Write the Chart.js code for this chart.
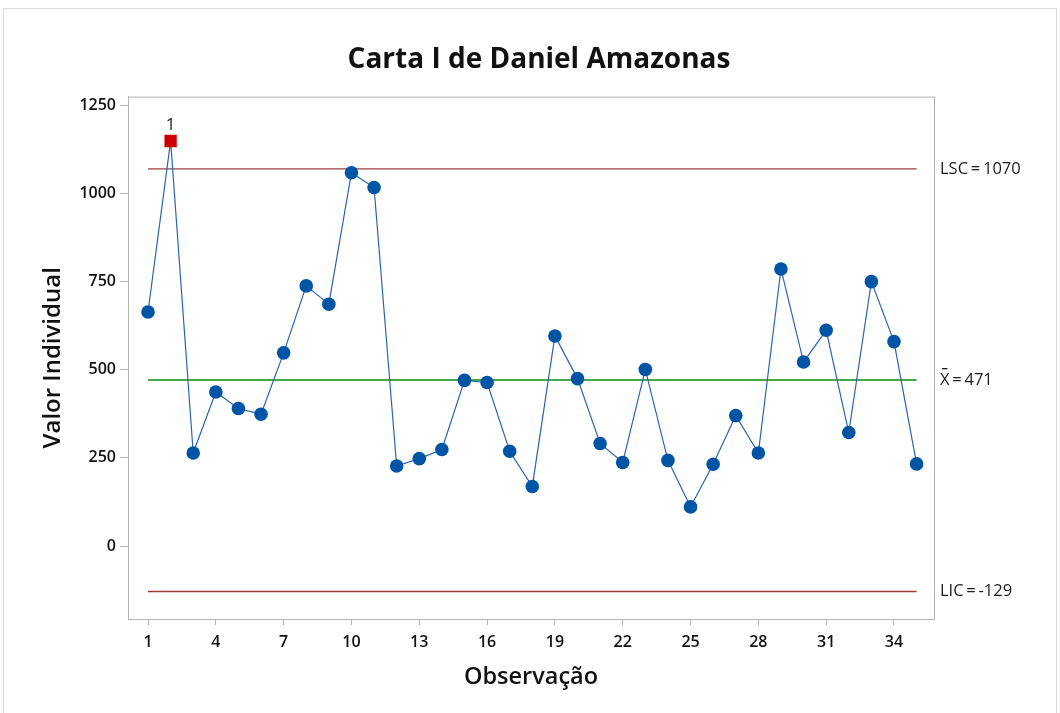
<!DOCTYPE html>
<html>
<head>
<meta charset="utf-8">
<title>Carta I de Daniel Amazonas</title>
<script src="https://cdn.jsdelivr.net/npm/chart.js@4"></script>
<style>
  html, body { margin: 0; padding: 0; background: #fff; }
  #wrap { width: 1060px; height: 713px; }
</style>
</head>
<body>
<div id="wrap"><canvas id="chart"></canvas></div>
<script>
// ── Data ────────────────────────────────────────────────────────
const observations = Array.from({ length: 35 }, (_, i) => i + 1);
const values = [664, 1149, 264, 437, 390, 374, 548, 738, 686, 1059,
                1017, 227, 248, 274, 470, 464, 269, 169, 596, 475,
                291, 237, 501, 243, 111, 232, 370, 264, 786, 522,
                612, 322, 750, 580, 233];
const outOfControl = [2];           // observations flagged by test 1
const xTicks = [1, 4, 7, 10, 13, 16, 19, 22, 25, 28, 31, 34];
const yTicks = [0, 250, 500, 750, 1000, 1250];
const limits = { lsc: 1070, mean: 471, lic: -129 };
const limitLabels = ['LSC\u2009=\u20091070', 'X\u2009=\u2009471', 'LIC\u2009=\u2009-129'];

const BLUE = '#0054a6';
const RED = '#cc0000';
const GREEN = '#0b8a14';
const DARKRED = '#a03c3c';
const FONT = '"Open Sans", "Noto Sans", sans-serif';

const pts = observations.map((x, i) => ({ x, y: values[i] }));
const hline = v => [{ x: 1, y: v }, { x: observations.length, y: v }];
const flagged = ctx => outOfControl.includes(ctx.dataIndex + 1);

// ── Plugins ─────────────────────────────────────────────────────
const frame = {
  id: 'frame',
  beforeDraw(chart) {
    const { ctx, chartArea: a } = chart;
    ctx.save();
    ctx.strokeStyle = '#dcdcdc';
    ctx.lineWidth = 1;
    ctx.strokeRect(3.5, 8.5, 1053, 710);
    ctx.strokeStyle = '#b4b4b4';
    ctx.strokeRect(a.left + 0.5, a.top + 0.5, a.right - a.left, a.bottom - a.top);
    ctx.restore();
  },
  afterDraw(chart) {
    const { ctx, chartArea: a, scales: { x, y } } = chart;
    ctx.save();
    ctx.fillStyle = '#1a1a1a';
    ctx.font = '16.5px ' + FONT;
    ctx.textBaseline = 'middle';
    ctx.textAlign = 'left';
    const lx = a.right + 6;
    ctx.fillText(limitLabels[0], lx, y.getPixelForValue(limits.lsc));
    ctx.fillText(limitLabels[2], lx, y.getPixelForValue(limits.lic));
    const my = y.getPixelForValue(limits.mean);
    ctx.fillText(limitLabels[1], lx, my);
    // bar over the X
    const w = ctx.measureText('X').width;
    ctx.fillRect(lx + 2, my - 12, w - 4, 1.3);
    // test flags above points
    ctx.textAlign = 'center';
    ctx.textBaseline = 'alphabetic';
    ctx.font = '17px ' + FONT;
    outOfControl.forEach(o => {
      ctx.fillText('1', x.getPixelForValue(o), y.getPixelForValue(values[o - 1]) - 11);
    });
    ctx.restore();
  }
};

// ── Chart ───────────────────────────────────────────────────────
new Chart(document.getElementById('chart'), {
  type: 'line',
  data: {
    datasets: [
      { data: hline(limits.lsc), borderColor: DARKRED, borderWidth: 1.3, pointRadius: 0, order: 3 },
      { data: hline(limits.mean), borderColor: GREEN, borderWidth: 1.3, pointRadius: 0, order: 3 },
      { data: hline(limits.lic), borderColor: DARKRED, borderWidth: 1.3, pointRadius: 0, order: 3 },
      {
        data: pts,
        borderColor: '#2a64b0',
        borderWidth: 1.2,
        pointRadius: ctx => flagged(ctx) ? 8.7 : 6.8,
        pointStyle: ctx => flagged(ctx) ? 'rect' : 'circle',
        pointBackgroundColor: ctx => flagged(ctx) ? RED : BLUE,
        pointBorderWidth: 0,
        order: 1
      }
    ]
  },
  options: {
    responsive: true,
    maintainAspectRatio: false,
    animation: false,
    layout: { padding: { left: 18, right: 0, bottom: 18 } },
    plugins: {
      legend: { display: false },
      tooltip: { enabled: false },
      title: {
        display: true,
        text: 'Carta I de Daniel Amazonas',
        color: '#111',
        font: { family: FONT, size: 28, weight: 'bold' },
        padding: { top: 43, bottom: 20 }
      }
    },
    scales: {
      x: {
        type: 'linear',
        min: 0.115,
        max: 35.77,
        afterBuildTicks: s => { s.ticks = xTicks.map(v => ({ value: v })); },
        afterFit: s => { s.height = 76; },
        ticks: { color: '#111', font: { family: FONT, size: 16, weight: '600' }, padding: 8,
                 callback: v => String(v) },
        grid: { drawOnChartArea: false, drawTicks: true, tickLength: 6, color: '#b4b4b4' },
        border: { color: '#b4b4b4' },
        title: {
          display: true, text: 'Observação', color: '#111',
          font: { family: FONT, size: 23.5, weight: '600' }, padding: { top: 12 }
        }
      },
      y: {
        min: -207,
        max: 1275,
        afterBuildTicks: s => { s.ticks = yTicks.map(v => ({ value: v })); },
        afterFit: s => { s.width = 110; },
        ticks: { color: '#111', font: { family: FONT, size: 16, weight: '600' }, padding: 4,
                 callback: v => String(v) },
        grid: { drawOnChartArea: false, drawTicks: true, tickLength: 8, color: '#b4b4b4' },
        border: { color: '#b4b4b4' },
        title: {
          display: true, text: 'Valor Individual', color: '#111',
          font: { family: FONT, size: 24, weight: '600' }, padding: { top: 21, bottom: 0 }
        }
      },
      // empty right axis that reserves room for the limit labels
      yRight: {
        position: 'right',
        display: true,
        ticks: { display: false },
        grid: { display: false },
        border: { display: false },
        afterFit: s => { s.width = 126; }
      }
    }
  },
  plugins: [frame]
});
</script>
</body>
</html>
